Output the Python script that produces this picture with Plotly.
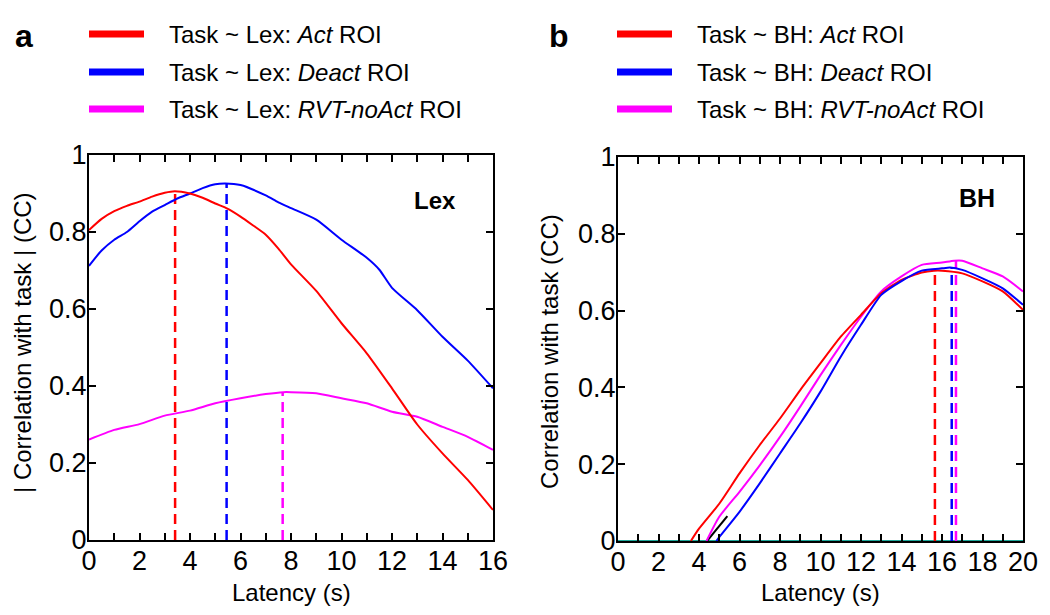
import plotly.graph_objects as go

# ── Panel a: Task ~ Lex ───────────────────────────────────────────────
lex_x = [0, 0.5, 1, 1.5, 2, 2.5, 3, 3.4, 4, 4.5, 5, 5.5, 6, 6.5, 7, 7.5, 8, 9, 10,
         11, 12, 13, 14, 15, 16]
lex_act = [0.805, 0.834, 0.854, 0.868, 0.879, 0.892, 0.902, 0.906, 0.900, 0.889,
           0.874, 0.860, 0.840, 0.817, 0.793, 0.757, 0.716, 0.647, 0.563, 0.485,
           0.394, 0.300, 0.225, 0.156, 0.078]

lex_deact_x = [0, 0.5, 1, 1.5, 2, 2.5, 3, 3.5, 4, 4.5, 5, 5.4, 6, 7, 7.5, 8, 9, 10,
               11, 11.5, 12, 13, 14, 15, 16]
lex_deact = [0.712, 0.752, 0.780, 0.800, 0.828, 0.853, 0.870, 0.887, 0.900, 0.914,
             0.924, 0.926, 0.922, 0.895, 0.877, 0.862, 0.832, 0.780, 0.733, 0.702,
             0.655, 0.597, 0.528, 0.466, 0.394]

lex_rvt_x = [0, 1, 2, 3, 4, 5, 6, 7, 7.7, 8, 9, 10, 11, 12, 13, 14, 15, 16]
lex_rvt = [0.261, 0.286, 0.301, 0.323, 0.336, 0.355, 0.368, 0.379, 0.384, 0.384,
           0.381, 0.368, 0.355, 0.333, 0.320, 0.294, 0.268, 0.234]

lex_peak_x = [3.41, 5.45, 7.67]
lex_peak_y = [0.906, 0.926, 0.384]

# ── Panel b: Task ~ BH ────────────────────────────────────────────────
bh_act_x = [3.6, 4, 5, 6, 7, 8, 9, 10, 11, 12, 13, 14, 15, 15.6, 16, 17, 18, 19, 20]
bh_act = [0.0, 0.032, 0.097, 0.176, 0.250, 0.319, 0.393, 0.463, 0.532, 0.589, 0.645,
          0.680, 0.699, 0.704, 0.704, 0.697, 0.676, 0.650, 0.602]

bh_deact_x = [4.86, 5, 6, 7, 8, 9, 10, 11, 12, 13, 14, 15, 16, 16.4, 17, 18, 19, 20]
bh_deact = [0.0, 0.010, 0.076, 0.150, 0.228, 0.306, 0.389, 0.480, 0.563, 0.641, 0.677,
            0.704, 0.710, 0.712, 0.706, 0.684, 0.658, 0.615]

bh_rvt_x = [4.37, 5, 6, 7, 8, 9, 10, 11, 12, 13, 14, 15, 16, 16.6, 17, 18, 19, 20]
bh_rvt = [0.0, 0.063, 0.128, 0.197, 0.271, 0.350, 0.432, 0.510, 0.584, 0.650, 0.689,
          0.719, 0.725, 0.730, 0.730, 0.710, 0.689, 0.650]

bh_peak_x = [15.65, 16.48, 16.69]
bh_peak_y = [0.704, 0.712, 0.730]

# small black stub and teal zero line seen in panel b
bh_stub_x = [4.4, 5.4]
bh_stub_y = [0.0, 0.065]
bh_zero_x = [0, 20]
bh_zero_y = [0, 0]

RED, BLUE, MAG = "#FF0000", "#0000FF", "#FF00FF"
TEAL = "#1FA89A"
FONT = "Liberation Sans, Arial, sans-serif"

fig = go.Figure()


def curve(x, y, color, name, xa, ya):
    fig.add_trace(go.Scatter(
        x=x, y=y, mode="lines", name=name, showlegend=False,
        line=dict(color=color, width=2, shape="spline", smoothing=0.6),
        xaxis=xa, yaxis=ya, hoverinfo="x+y",
    ))


def peaks(px, py, colors, xa, ya):
    for x, y, c in zip(px, py, colors):
        fig.add_trace(go.Scatter(
            x=[x, x], y=[0, y], mode="lines", showlegend=False,
            line=dict(color=c, width=2.5, dash="10px,6px"),
            xaxis=xa, yaxis=ya, hoverinfo="skip",
        ))


peaks(lex_peak_x, lex_peak_y, [RED, BLUE, MAG], "x", "y")
curve(lex_rvt_x, lex_rvt, MAG, "Task ~ Lex: RVT-noAct ROI", "x", "y")
curve(lex_deact_x, lex_deact, BLUE, "Task ~ Lex: Deact ROI", "x", "y")
curve(lex_x, lex_act, RED, "Task ~ Lex: Act ROI", "x", "y")

fig.add_trace(go.Scatter(x=bh_zero_x, y=bh_zero_y, mode="lines", showlegend=False,
                         line=dict(color=TEAL, width=2), xaxis="x2", yaxis="y2"))
peaks(bh_peak_x, bh_peak_y, [RED, BLUE, MAG], "x2", "y2")
fig.add_trace(go.Scatter(x=bh_stub_x, y=bh_stub_y, mode="lines", showlegend=False,
                         line=dict(color="black", width=2), xaxis="x2", yaxis="y2"))
curve(bh_rvt_x, bh_rvt, MAG, "Task ~ BH: RVT-noAct ROI", "x2", "y2")
curve(bh_act_x, bh_act, RED, "Task ~ BH: Act ROI", "x2", "y2")
curve(bh_deact_x, bh_deact, BLUE, "Task ~ BH: Deact ROI", "x2", "y2")

W, H = 1050, 615
ax_common = dict(
    showline=True, linecolor="black", linewidth=2, mirror="ticks",
    ticks="inside", ticklen=7, tickwidth=1.5, tickcolor="black",
    showgrid=False, zeroline=False, automargin=False,
    tickfont=dict(family=FONT, size=27, color="black"),
)
minor_x = dict(dtick=1, ticks="inside", ticklen=7, tickwidth=1.5, tickcolor="black")

fig.update_layout(
    width=W, height=H,
    margin=dict(l=0, r=0, t=0, b=0),
    paper_bgcolor="white", plot_bgcolor="white",
    font=dict(family=FONT, color="black"),
    xaxis=dict(domain=[89 / W, 493 / W], range=[0, 16], dtick=2, minor=minor_x,
               anchor="y", ticklabelstandoff=-4, **ax_common),
    yaxis=dict(domain=[1 - 540 / H, 1 - 155 / H], range=[0, 1], dtick=0.2,
               anchor="x", ticklabelstandoff=-5, **ax_common),
    xaxis2=dict(domain=[618 / W, 1023 / W], range=[0, 20], dtick=2, minor=minor_x,
                anchor="y2", ticklabelstandoff=-4, **ax_common),
    yaxis2=dict(domain=[1 - 541 / H, 1 - 157 / H], range=[0, 1], dtick=0.2,
                anchor="x2", ticklabelstandoff=-5, **ax_common),
)

# legends drawn by hand (key line + label), one block per panel
legend_a = ["Task ~ Lex: <i>Act</i> ROI", "Task ~ Lex: <i>Deact</i> ROI",
            "Task ~ Lex: <i>RVT-noAct</i> ROI"]
legend_b = ["Task ~ BH: <i>Act</i> ROI", "Task ~ BH: <i>Deact</i> ROI",
            "Task ~ BH: <i>RVT-noAct</i> ROI"]
rows_y = [34, 72, 109]
for labels, x0, x1, xt in [(legend_a, 89, 144, 167), (legend_b, 617, 672, 695)]:
    for lab, yy, c in zip(labels, rows_y, [RED, BLUE, MAG]):
        fig.add_shape(type="line", xref="paper", yref="paper",
                      x0=x0 / W, x1=x1 / W, y0=1 - yy / H, y1=1 - yy / H,
                      line=dict(color=c, width=7))
        fig.add_annotation(xref="paper", yref="paper", x=xt / W, y=1 - yy / H,
                           text=lab, showarrow=False, xanchor="left", yanchor="middle",
                           font=dict(family=FONT, size=24, color="black"))

annots = [
    dict(x=24 / W, y=1 - 36 / H, text="<b>a</b>", size=32),
    dict(x=559 / W, y=1 - 36 / H, text="<b>b</b>", size=32),
    dict(x=435 / W, y=1 - 200 / H, text="<b>Lex</b>", size=24),
    dict(x=977 / W, y=1 - 198 / H, text="<b>BH</b>", size=25),
    dict(x=291 / W, y=1 - 592 / H, text="Latency (s)", size=24),
    dict(x=820 / W, y=1 - 592 / H, text="Latency (s)", size=24),
]
for a in annots:
    fig.add_annotation(xref="paper", yref="paper", x=a["x"], y=a["y"], text=a["text"],
                       showarrow=False, xanchor="center", yanchor="middle",
                       font=dict(family=FONT, size=a["size"], color="black"))

for x, y, t in [(22, 343, "| Correlation with task | (CC)"),
                (549, 352, "Correlation with task (CC)")]:
    fig.add_annotation(xref="paper", yref="paper", x=x / W, y=1 - y / H, text=t,
                       textangle=-90, showarrow=False, xanchor="center", yanchor="middle",
                       font=dict(family=FONT, size=24, color="black"))

# the page's default body margin would push the figure 8px off the window
fig.write_html("out.html", config={"displayModeBar": False},
               post_script="document.body.style.margin='0px';")
